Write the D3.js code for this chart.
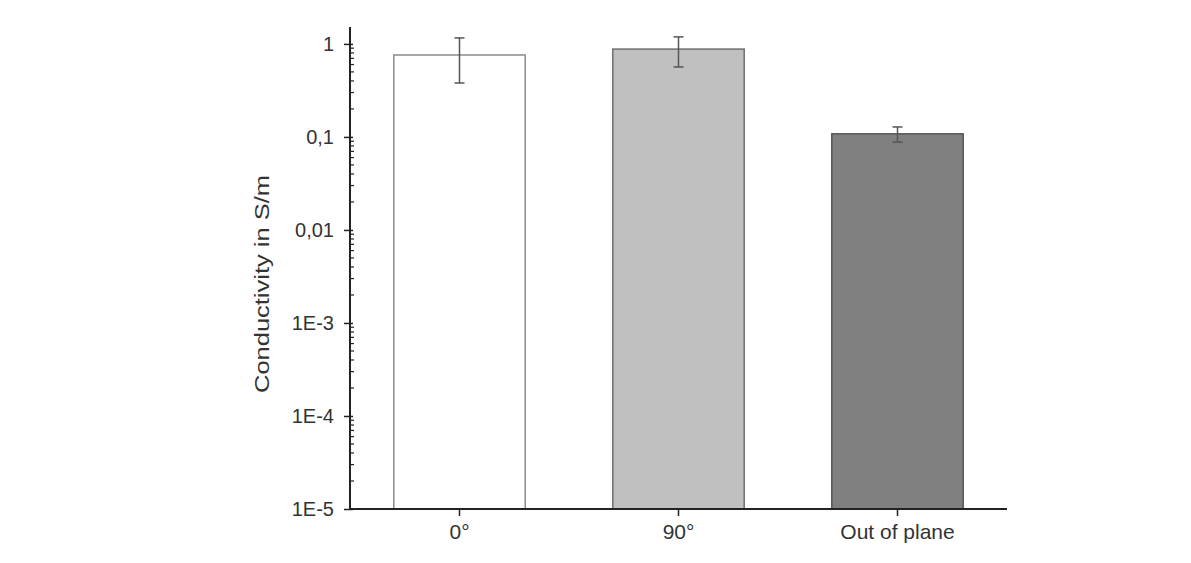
<!DOCTYPE html>
<html>
<head>
<meta charset="utf-8">
<script src="https://cdn.jsdelivr.net/npm/d3@7"></script>
<style>
  html, body { margin: 0; padding: 0; background: #fff; }
  svg { display: block; }
  text { font-family: "Liberation Sans", Arial, sans-serif; fill: #333; }
</style>
</head>
<body>
<svg id="chart" width="1191" height="563"></svg>
<script>
const categories = ["0°", "90°", "Out of plane"];
const values = [0.76, 0.88, 0.108];
const errLow = [0.38, 0.565, 0.088];
const errHigh = [1.16, 1.19, 0.128];
const fills = ["#ffffff", "#c0c0c0", "#808080"];
const strokes = ["#8a8a8a", "#6e6e6e", "#555555"];
const yTickValues = [1, 0.1, 0.01, 1e-3, 1e-4, 1e-5];
const yTickLabels = ["1", "0,1", "0,01", "1E-3", "1E-4", "1E-5"];
const yLabel = "Conductivity in S/m";

(function () {
const svg = d3.select("#chart");
const mLeft = 350, mRight = 1007, mTop = 27, mBottom = 509;

const x = d3.scaleBand().domain(categories).range([mLeft, mRight]).paddingInner(0.4).paddingOuter(0.2);
const y = d3.scaleLog().domain([1e-5, 1.52]).range([mBottom, mTop]);

// bars
svg.append("g").selectAll("rect").data(categories).join("rect")
  .attr("x", d => x(d))
  .attr("y", (d, i) => y(values[i]))
  .attr("width", x.bandwidth())
  .attr("height", (d, i) => mBottom - y(values[i]))
  .attr("fill", (d, i) => fills[i])
  .attr("stroke", (d, i) => strokes[i])
  .attr("stroke-width", 1.5);

// error bars
const eg = svg.append("g").attr("stroke", "#555").attr("stroke-width", 1.5);
categories.forEach((c, i) => {
  const cx = x(c) + x.bandwidth() / 2;
  eg.append("line").attr("x1", cx).attr("x2", cx).attr("y1", y(errLow[i])).attr("y2", y(errHigh[i]));
  [errLow[i], errHigh[i]].forEach(v => {
    eg.append("line").attr("x1", cx - 5).attr("x2", cx + 5).attr("y1", y(v)).attr("y2", y(v));
  });
});

// y axis
const yAxis = d3.axisLeft(y).tickValues(yTickValues)
  .tickFormat((d, i) => yTickLabels[i]).tickSizeOuter(0).tickSizeInner(6).tickPadding(10);
const yg = svg.append("g").attr("transform", `translate(${mLeft},0)`).call(yAxis);
yg.select(".domain").attr("stroke", "#222").attr("stroke-width", 2).attr("d", `M0,${mBottom}V${mTop}`);
yg.selectAll(".tick line").attr("stroke", "#222").attr("stroke-width", 1.5).attr("x2", -6).attr("x1", 3);
yg.selectAll(".tick text").attr("font-size", 20).attr("fill", "#333")
  .attr("font-family", "Liberation Sans, Arial, sans-serif");

// minor ticks (inside)
const minor = [];
for (let e = -5; e <= 0; e++) {
  for (let m = 2; m <= 9; m++) {
    const v = m * Math.pow(10, e);
    if (v <= 1.52) minor.push(v);
  }
}
svg.append("g").selectAll("line").data(minor).join("line")
  .attr("x1", mLeft).attr("x2", mLeft + 4)
  .attr("y1", d => y(d)).attr("y2", d => y(d))
  .attr("stroke", "#222").attr("stroke-width", 1.2);

// x axis
const xAxis = d3.axisBottom(x).tickSizeOuter(0).tickSizeInner(7).tickPadding(8);
const xg = svg.append("g").attr("transform", `translate(0,${mBottom})`).call(xAxis);
xg.select(".domain").attr("stroke", "#222").attr("stroke-width", 2).attr("d", `M${mLeft - 1},0H${mRight}`);
xg.selectAll(".tick line").attr("stroke", "#222").attr("stroke-width", 1.5);
xg.selectAll(".tick text").attr("font-size", 21).attr("fill", "#333")
  .attr("font-family", "Liberation Sans, Arial, sans-serif");

// y label
svg.append("text")
  .attr("transform", `translate(269,${(175 + 393) / 2}) rotate(-90)`)
  .attr("text-anchor", "middle")
  .attr("font-size", 20)
  .attr("textLength", 218)
  .attr("lengthAdjust", "spacingAndGlyphs")
  .text(yLabel);
})();
</script>
</body>
</html>
